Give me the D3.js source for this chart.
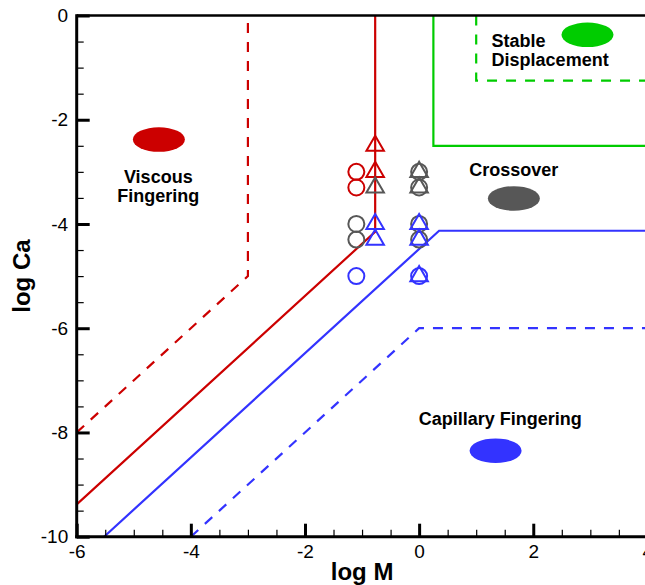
<!DOCTYPE html>
<html>
<head>
<meta charset="utf-8">
<script src="https://cdn.jsdelivr.net/npm/d3@7"></script>
<style>
  html, body { margin: 0; padding: 0; background: #fff; }
  svg { display: block; }
  text { font-family: "Liberation Sans", Arial, Helvetica, sans-serif; }
</style>
</head>
<body>
<svg id="chart" width="645" height="585"></svg>
<script>
// Flow regime map: log M (viscosity ratio) vs log Ca (capillary number)

// Boundary lines (log M, log Ca vertices)
const viscousSolidM   = [-6, -0.77, -0.77];
const viscousSolidCa  = [-9.38, -4.15, 0];
const viscousDashM    = [-6, -3, -3];
const viscousDashCa   = [-8, -5, 0];
const capillarySolidM  = [-5.52, 0.35, 4];
const capillarySolidCa = [-10, -4.13, -4.13];
const capillaryDashM   = [-4, 0, 4];
const capillaryDashCa  = [-10, -6, -6];
const stableSolidM    = [0.25, 0.25, 4];
const stableSolidCa   = [0, -2.5, -2.5];
const stableDashM     = [1.0, 1.0, 4];
const stableDashCa    = [0, -1.25, -1.25];

// Experiment markers
const circleM    = [-1.1, -1.1, -1.1, -1.1, -1.1, 0, 0, 0, 0, 0];
const circleCa   = [-3, -3.3, -4, -4.3, -5, -3, -3.3, -4, -4.3, -5];
const circleType = ["viscous", "viscous", "crossover", "crossover", "capillary",
                    "crossover", "crossover", "crossover", "crossover", "capillary"];
const triM    = [-0.77, -0.77, -0.77, -0.77, -0.77, 0, 0, 0, 0, 0];
const triCa   = [-2.5, -3, -3.3, -4, -4.3, -3, -3.3, -4, -4.3, -5];
const triType = ["viscous", "viscous", "crossover", "capillary", "capillary",
                 "crossover", "crossover", "capillary", "capillary", "capillary"];

// Regime legend blobs and their names
const regimeType  = ["viscous", "stable", "crossover", "capillary"];
const regimeM     = [-4.56, 2.95, 1.66, 1.34];
const regimeCa    = [-2.38, -0.37, -3.51, -8.35];
const regimeLines = [["Viscous", "Fingering"], ["Stable", "Displacement"], ["Crossover"], ["Capillary Fingering"]];
const labelM      = [-4.57, 1.27, 1.66, 1.42];
const labelCa     = [-3.22, -0.6, -3.08, -7.86];
const labelAnchor = ["middle", "start", "middle", "middle"];

// Axis ticks
const xTicks = [-6, -4, -2, 0, 2, 4];
const yTicks = [0, -2, -4, -6, -8, -10];
const xMinor = d3.range(-5.5, 4, 0.5).filter(v => !xTicks.includes(v));
const yMinor = d3.range(-9.5, 0, 0.5).filter(v => !yTicks.includes(v));

const colors = {
  viscous: "#cc0000",
  stable: "#00cc00",
  crossover: "#575757",
  capillary: "#3333ff"
};

const svg = d3.select("#chart");
const x = d3.scaleLinear().domain([-6, 4]).range([76.7, 647.4]);
const y = d3.scaleLinear().domain([0, -10]).range([15.5, 536.7]);

svg.append("defs").append("clipPath").attr("id", "plotClip")
  .append("rect")
  .attr("x", x(-6)).attr("y", y(0))
  .attr("width", x(4) - x(-6)).attr("height", y(-10) - y(0));

const plot = svg.append("g").attr("clip-path", "url(#plotClip)");

const line = d3.line().x(d => x(d[0])).y(d => y(d[1]));
const boundaries = [
  { m: viscousSolidM, ca: viscousSolidCa, c: colors.viscous, dash: null },
  { m: viscousDashM, ca: viscousDashCa, c: colors.viscous, dash: "10,9" },
  { m: capillarySolidM, ca: capillarySolidCa, c: colors.capillary, dash: null },
  { m: capillaryDashM, ca: capillaryDashCa, c: colors.capillary, dash: "10,9" },
  { m: stableSolidM, ca: stableSolidCa, c: colors.stable, dash: null },
  { m: stableDashM, ca: stableDashCa, c: colors.stable, dash: "10,9" }
];
boundaries.forEach(b => {
  plot.append("path")
    .attr("d", line(b.m.map((v, i) => [v, b.ca[i]])))
    .attr("fill", "none")
    .attr("stroke", b.c)
    .attr("stroke-width", 2.2)
    .attr("stroke-dasharray", b.dash);
});

// Regime blobs
plot.selectAll("ellipse.regime")
  .data(regimeType)
  .join("ellipse")
  .attr("class", "regime")
  .attr("cx", (d, i) => x(regimeM[i]))
  .attr("cy", (d, i) => y(regimeCa[i]))
  .attr("rx", 26)
  .attr("ry", 12.3)
  .attr("fill", d => colors[d]);

// Regime names
regimeLines.forEach((lines, i) => {
  const t = svg.append("text")
    .attr("x", x(labelM[i]))
    .attr("y", y(labelCa[i]))
    .attr("text-anchor", labelAnchor[i])
    .attr("font-size", 18)
    .attr("font-weight", "bold")
    .attr("fill", "#000");
  lines.forEach((s, j) => {
    t.append("tspan")
      .attr("x", x(labelM[i]))
      .attr("dy", j === 0 ? 0 : 19)
      .text(s);
  });
});

// Circle markers
svg.selectAll("circle.run")
  .data(circleM)
  .join("circle")
  .attr("class", "run")
  .attr("cx", d => x(d))
  .attr("cy", (d, i) => y(circleCa[i]))
  .attr("r", 8)
  .attr("fill", "none")
  .attr("stroke", (d, i) => colors[circleType[i]])
  .attr("stroke-width", 2);

// Triangle markers (centred on centroid)
const side = 17.5;
const th = side * Math.sqrt(3) / 2;
const triPath = `M0,${-th * 2 / 3}L${side / 2},${th / 3}L${-side / 2},${th / 3}Z`;
svg.selectAll("path.run")
  .data(triM)
  .join("path")
  .attr("class", "run")
  .attr("d", triPath)
  .attr("transform", (d, i) => `translate(${x(d)},${y(triCa[i])})`)
  .attr("fill", "none")
  .attr("stroke", (d, i) => colors[triType[i]])
  .attr("stroke-width", 2)
  .attr("stroke-linejoin", "miter");

// Axes frame: top line
svg.append("line")
  .attr("x1", x(-6)).attr("x2", 645)
  .attr("y1", y(0)).attr("y2", y(0))
  .attr("stroke", "#000").attr("stroke-width", 2.5);

function styleAxis(g, width, fontSize) {
  g.select(".domain").remove();
  g.attr("font-size", null).attr("font-family", null);
  g.selectAll(".tick line").attr("stroke", "#000").attr("stroke-width", width);
  g.selectAll(".tick text")
    .attr("font-size", fontSize)
    .attr("fill", "#000");
}

// Bottom axis: minor and major ticks pointing inward
svg.append("g").attr("transform", `translate(0,${y(-10)})`)
  .call(d3.axisBottom(x).tickValues(xMinor).tickSize(-7).tickFormat(""))
  .call(g => styleAxis(g, 1.2, 0));
svg.append("g").attr("transform", `translate(0,${y(-10)})`)
  .call(d3.axisBottom(x).tickValues(xTicks).tickSize(-13).tickPadding(7.5).tickFormat(d => d))
  .call(g => styleAxis(g, 3, 19));
svg.append("line")
  .attr("x1", x(-6) - 1.5).attr("x2", 645)
  .attr("y1", y(-10)).attr("y2", y(-10))
  .attr("stroke", "#000").attr("stroke-width", 3);

// Left axis: minor and major ticks pointing inward
svg.append("g").attr("transform", `translate(${x(-6)},0)`)
  .call(d3.axisLeft(y).tickValues(yMinor).tickSize(-7).tickFormat(""))
  .call(g => styleAxis(g, 1.2, 0));
svg.append("g").attr("transform", `translate(${x(-6)},0)`)
  .call(d3.axisLeft(y).tickValues(yTicks).tickSize(-13).tickPadding(8.5).tickFormat(d => d))
  .call(g => styleAxis(g, 3, 19));
svg.append("line")
  .attr("x1", x(-6)).attr("x2", x(-6))
  .attr("y1", y(0) - 1.2).attr("y2", y(-10) + 1.5)
  .attr("stroke", "#000").attr("stroke-width", 3);

// Axis titles
svg.append("text")
  .attr("x", (x(-6) + x(4)) / 2)
  .attr("y", 580)
  .attr("text-anchor", "middle")
  .attr("font-size", 24)
  .attr("font-weight", "bold")
  .text("log M");

svg.append("text")
  .attr("transform", `translate(30,${(y(0) + y(-10)) / 2}) rotate(-90)`)
  .attr("text-anchor", "middle")
  .attr("font-size", 24)
  .attr("font-weight", "bold")
  .text("log Ca");
</script>
</body>
</html>
